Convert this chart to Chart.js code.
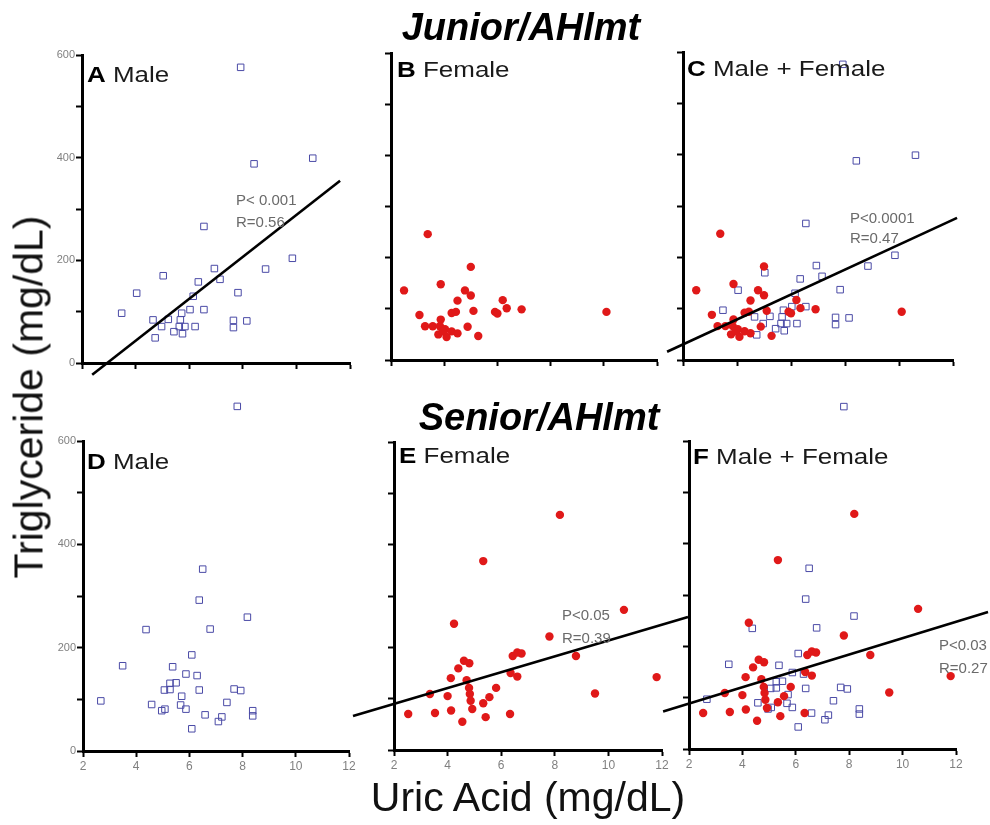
<!DOCTYPE html>
<html>
<head>
<meta charset="utf-8">
<title>Uric acid vs triglyceride</title>
<script src="https://cdn.jsdelivr.net/npm/chart.js@4.4.1/dist/chart.umd.min.js"></script>
<style>
  html, body { margin: 0; padding: 0; background: #fff; }
  #page { position: relative; width: 990px; height: 825px; overflow: hidden; font-family: 'Liberation Sans', Arial, sans-serif; }
  canvas { position: absolute; }
  .txt { position: absolute; white-space: nowrap; line-height: 1; color: #000; }
  .group { font-size: 38px; font-weight: bold; font-style: italic; transform: translateX(-50%); }
  .axis-title { font-size: 41px; color: #111; }
  .panel { font-size: 22px; color: #1a1a1a; transform: scaleX(1.18); transform-origin: left top; }
  .panel b { color: #000; }
  .stat { font-size: 15px; color: #6a6a6a; }
</style>
</head>
<body>
<div id="page">
  <canvas id="chartA"></canvas>
  <canvas id="chartB"></canvas>
  <canvas id="chartC"></canvas>
  <canvas id="chartD"></canvas>
  <canvas id="chartE"></canvas>
  <canvas id="chartF"></canvas>

  <div class="txt group" style="left:521px; top:8px;">Junior/AHlmt</div>
  <div class="txt group" style="left:539px; top:398px;">Senior/AHlmt</div>
  <div class="txt axis-title" style="left:29px; top:397px; transform: translate(-50%, -50%) rotate(-90deg);">Triglyceride (mg/dL)</div>
  <div class="txt axis-title" style="left:528px; top:777px; transform: translateX(-50%);">Uric Acid (mg/dL)</div>

  <div class="txt panel" style="left:87px; top:64px;"><b>A</b> Male</div>
  <div class="txt panel" style="left:397px; top:59px;"><b>B</b> Female</div>
  <div class="txt panel" style="left:687px; top:58px;"><b>C</b> Male + Female</div>
  <div class="txt panel" style="left:87px; top:451px;"><b>D</b> Male</div>
  <div class="txt panel" style="left:399px; top:445px;"><b>E</b> Female</div>
  <div class="txt panel" style="left:693px; top:446px;"><b>F</b> Male + Female</div>

  <div class="txt stat" style="left:236px; top:192px;">P&lt; 0.001</div>
  <div class="txt stat" style="left:236px; top:214px;">R=0.56</div>
  <div class="txt stat" style="left:850px; top:210px;">P&lt;0.0001</div>
  <div class="txt stat" style="left:850px; top:230px;">R=0.47</div>
  <div class="txt stat" style="left:562px; top:607px;">P&lt;0.05</div>
  <div class="txt stat" style="left:562px; top:630px;">R=0.39</div>
  <div class="txt stat" style="left:939px; top:637px;">P&lt;0.03</div>
  <div class="txt stat" style="left:939px; top:660px;">R=0.27</div>
</div>

<script>
// Junior/AHlmt - male (uric acid, triglyceride)
const juniorMaleUA = [7.92, 10.61, 8.42, 6.55, 6.94, 7.15, 6.34, 8.85, 9.85, 5.03, 4.04, 7.82, 3.48, 6.15, 6.55, 6.03, 5.72, 4.65, 4.97, 4.73, 5.22, 5.43, 5.67, 5.63, 5.84, 5.75, 6.22, 7.65, 7.65, 8.15];
const juniorMaleTG = [576, 399, 388, 266, 184, 163, 158, 183, 204, 170, 136, 137, 97, 130, 104, 104, 97, 84, 71, 49, 85, 61, 84, 71, 71, 57, 71, 83, 69, 82];

// Junior/AHlmt - female
const juniorFemaleUA = [3.38, 5.0, 2.49, 3.87, 4.78, 5.0, 4.5, 4.28, 4.44, 5.1, 5.91, 6.0, 6.2, 6.35, 6.91, 10.1, 3.07, 3.28, 3.57, 3.87, 3.84, 4.03, 3.78, 4.09, 4.28, 4.5, 4.88, 5.28, 3.95];
const juniorFemaleTG = [246, 182, 136, 148, 136, 126, 116, 92, 94, 96, 94, 91, 117, 101, 99, 94, 88, 66, 66, 79, 66, 60, 50, 45, 56, 52, 65, 47, 56];

// Senior/AHlmt - male
const seniorMaleUA = [7.8, 6.5, 6.37, 8.18, 4.37, 6.78, 6.09, 3.49, 5.37, 5.87, 6.29, 2.67, 4.58, 4.96, 5.08, 5.06, 5.27, 5.27, 5.5, 5.71, 5.67, 5.87, 6.37, 6.09, 6.59, 7.09, 7.22, 7.41, 7.68, 7.93, 8.38, 8.38];
const seniorMaleTG = [667, 352, 292, 259, 235, 236, 186, 165, 163, 149, 146, 97, 90, 78, 81, 118, 119, 131, 132, 106, 89, 81, 118, 43, 70, 57, 66, 94, 120, 117, 78, 68];

// Senior/AHlmt - female
const seniorFemaleUA = [8.19, 5.33, 10.58, 4.24, 7.8, 8.79, 11.8, 9.5, 6.43, 6.6, 6.76, 4.61, 4.81, 4.4, 4.12, 4.71, 6.35, 6.6, 4.8, 5.81, 3.34, 4.0, 4.83, 5.56, 4.86, 5.33, 4.92, 2.53, 3.53, 4.13, 6.33, 5.42, 4.55];
const seniorFemaleTG = [458, 368, 273, 246, 221, 183, 142, 110, 183, 190, 188, 174, 169, 159, 140, 136, 150, 143, 121, 121, 109, 105, 109, 103, 96, 91, 80, 70, 72, 77, 70, 64, 55];

// Regression lines (end points)
const fitA_UA = [2.38, 11.63], fitA_TG = [-23, 355];
const fitC_UA = [1.41, 12.15], fitC_TG = [16, 277];
const fitE_UA = [0.47, 12.97], fitE_TG = [66, 259];
const fitF_UA = [1.03, 13.2],  fitF_TG = [73, 267];

// Axis ticks
const uaTicks = [2, 4, 6, 8, 10, 12];
const tgTicks = [0, 200, 400, 600];

const BLUE = '#4a4aa6';
const RED = '#e01919';

function pairs(xs, ys) {
    return xs.map((x, i) => ({ x: x, y: ys[i] }));
}

function maleSet(xs, ys) {
    return {
        data: pairs(xs, ys),
        pointStyle: 'rect',
        pointRadius: 4.6,
        pointBorderWidth: 1,
        pointBorderColor: BLUE,
        pointBackgroundColor: 'rgba(0,0,0,0)',
        clip: false,
        order: 2,
    };
}

function femaleSet(xs, ys) {
    return {
        data: pairs(xs, ys),
        pointStyle: 'circle',
        pointRadius: 4.2,
        pointBorderWidth: 0,
        pointBackgroundColor: RED,
        clip: false,
        order: 1,
    };
}

function fitSet(xs, ys) {
    return {
        data: pairs(xs, ys),
        showLine: true,
        borderColor: '#000',
        borderWidth: 2.6,
        pointRadius: 0,
        clip: false,
        order: 0,
    };
}

function noPadding(scale) {
    scale.paddingLeft = 0;
    scale.paddingRight = 0;
    scale.paddingTop = 0;
    scale.paddingBottom = 0;
}

// Points beyond the 600 limit are skipped by Chart.js even with clip:false, draw them here
const outsidePoints = {
    id: 'outsidePoints',
    afterDatasetsDraw(chart) {
        const a = chart.chartArea;
        chart.getSortedVisibleDatasetMetas().forEach(meta => {
            meta.data.forEach(pt => {
                const m = pt.size(pt.options) / 2;
                const inside = pt.x > a.left - m && pt.x < a.right + m && pt.y > a.top - m && pt.y < a.bottom + m;
                if (!inside) pt.draw(chart.ctx);
            });
        });
    }
};

// Build one panel; area = plot box in page pixels
function makePanel(id, area, datasets, showY, showX) {
    const pad = { left: 60, top: 70, right: 45, bottom: 45 };
    const canvas = document.getElementById(id);
    canvas.width = area.right - area.left + pad.left + pad.right;
    canvas.height = area.bottom - area.top + pad.top + pad.bottom;
    canvas.style.left = (area.left - pad.left) + 'px';
    canvas.style.top = (area.top - pad.top) + 'px';

    new Chart(canvas, {
        type: 'scatter',
        data: { datasets: datasets },
        plugins: [outsidePoints],
        options: {
            responsive: false,
            animation: false,
            devicePixelRatio: 1,
            events: [],
            layout: { padding: { left: 20, top: 70, right: 45, bottom: 20 } },
            plugins: { legend: { display: false }, tooltip: { enabled: false } },
            scales: {
                x: {
                    type: 'linear',
                    min: 2,
                    max: 12,
                    border: { display: true, color: '#000', width: 3 },
                    grid: { display: true, drawOnChartArea: false, drawTicks: true, tickLength: 6, tickWidth: 2, tickColor: '#000' },
                    ticks: {
                        stepSize: 2,
                        autoSkip: false,
                        maxRotation: 0,
                        padding: 2,
                        color: '#808080',
                        font: { family: "'Liberation Sans Narrow', 'Liberation Sans', sans-serif", size: 12 },
                        callback: v => (showX && uaTicks.includes(v)) ? v : '',
                    },
                    afterFit: s => { s.height = 25; noPadding(s); },
                },
                y: {
                    type: 'linear',
                    min: 0,
                    max: 600,
                    border: { display: true, color: '#000', width: 3 },
                    grid: { display: true, drawOnChartArea: false, drawTicks: true, tickLength: 6, tickWidth: 2, tickColor: '#000' },
                    ticks: {
                        stepSize: 100,
                        autoSkip: false,
                        padding: 1,
                        color: '#808080',
                        font: { family: "'Liberation Sans', sans-serif", size: 11 },
                        callback: v => (showY && tgTicks.includes(v)) ? v : '',
                    },
                    afterFit: s => { s.width = 40; noPadding(s); },
                },
            },
        },
    });
}

// Junior row
makePanel('chartA', { left: 82, top: 55, right: 350, bottom: 363 },
    [fitSet(fitA_UA, fitA_TG), maleSet(juniorMaleUA, juniorMaleTG)], true, false);
makePanel('chartB', { left: 391, top: 53, right: 657, bottom: 360 },
    [femaleSet(juniorFemaleUA, juniorFemaleTG)], false, false);
makePanel('chartC', { left: 683, top: 52, right: 953, bottom: 360 },
    [fitSet(fitC_UA, fitC_TG), femaleSet(juniorFemaleUA, juniorFemaleTG), maleSet(juniorMaleUA, juniorMaleTG)], false, false);

// Senior row
makePanel('chartD', { left: 83, top: 441, right: 349, bottom: 751 },
    [maleSet(seniorMaleUA, seniorMaleTG)], true, true);
makePanel('chartE', { left: 394, top: 442, right: 662, bottom: 750 },
    [fitSet(fitE_UA, fitE_TG), femaleSet(seniorFemaleUA, seniorFemaleTG)], false, true);
makePanel('chartF', { left: 689, top: 441, right: 956, bottom: 749 },
    [fitSet(fitF_UA, fitF_TG), femaleSet(seniorFemaleUA, seniorFemaleTG), maleSet(seniorMaleUA, seniorMaleTG)], false, true);
</script>
</body>
</html>
